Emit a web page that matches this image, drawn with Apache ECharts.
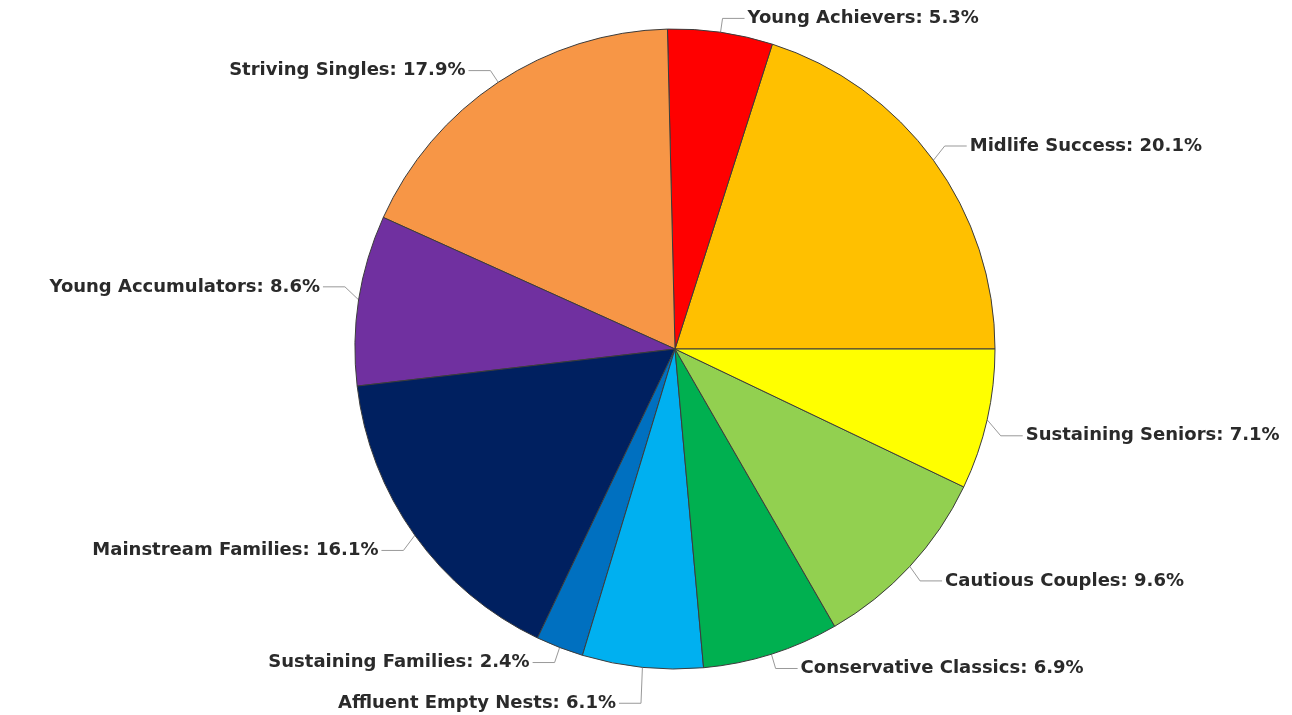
<!DOCTYPE html>
<html>
<head>
<meta charset="utf-8">
<script src="https://cdn.jsdelivr.net/npm/echarts@6/dist/echarts.min.js"></script>
<style>
  html, body { margin: 0; padding: 0; background: #fff; }
  #chart { width: 1292px; height: 715px; }
</style>
</head>
<body>
<div id="chart"></div>
<script>
const segments = ['Midlife Success', 'Young Achievers', 'Striving Singles', 'Young Accumulators',
  'Mainstream Families', 'Sustaining Families', 'Affluent Empty Nests', 'Conservative Classics',
  'Cautious Couples', 'Sustaining Seniors'];
const shares = [20.1, 5.3, 17.9, 8.6, 16.1, 2.4, 6.1, 6.9, 9.6, 7.1];
const sliceColors = ['#FFC000', '#FF0000', '#F79646', '#7030A0', '#002060', '#0070C0',
  '#00B0F0', '#00B050', '#92D050', '#FFFF00'];

const chart = echarts.init(document.getElementById('chart'));

// small vertical nudges so labels sit where the original leader lines put them
const labelNudge = [-6, 0, 0, -11, 7, 2, 22, 1, 5, 13];

chart.setOption({
  animation: false,
  backgroundColor: '#ffffff',
  series: [{
    type: 'pie',
    center: [675, 349],
    radius: 320,
    startAngle: 0,
    clockwise: false,
    avoidLabelOverlap: false,
    data: segments.map((name, i) => ({
      name: name,
      value: shares[i],
      itemStyle: { color: sliceColors[i] }
    })),
    itemStyle: {
      borderColor: '#3c3c3c',
      borderWidth: 1
    },
    label: {
      show: true,
      formatter: p => p.name + ': ' + p.value.toFixed(1) + '%',
      fontFamily: 'DejaVu Sans',
      fontWeight: 'bold',
      fontSize: 18,
      color: '#2a2a2a',
      distanceToLabelLine: 3
    },
    labelLine: {
      show: true,
      length: 14,
      length2: 22,
      lineStyle: { color: '#999999', width: 1 }
    },
    labelLayout: function (params) {
      const dy = labelNudge[params.dataIndex];
      const pts = params.labelLinePoints;
      const out = { dy: dy };
      if (pts) {
        out.labelLinePoints = pts.map((p, k) => k === 0 ? [p[0], p[1]] : [p[0], p[1] + dy]);
      }
      return out;
    },
    emphasis: { disabled: true }
  }]
});

window.addEventListener('resize', function () {
  chart.resize();
});
</script>
</body>
</html>
